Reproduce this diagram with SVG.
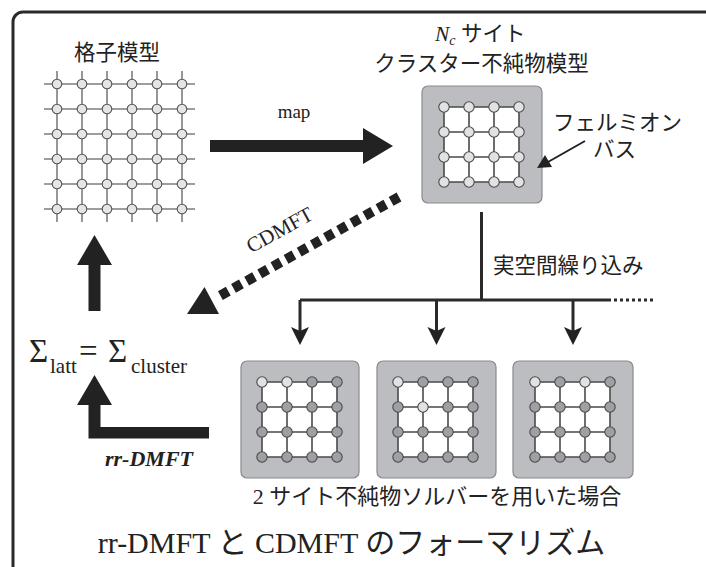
<svg xmlns="http://www.w3.org/2000/svg" width="706" height="567" viewBox="0 0 706 567">
<style>
.frame{fill:#fff;stroke:#2a2a2a;stroke-width:3}
.lat{stroke:#7e7e80;stroke-width:1.6;fill:none}
.ln{fill:#e5e5e7;stroke:#555;stroke-width:1.1}
.box{fill:#bcbdc0;stroke:#8a8a8c;stroke-width:1.2}
.in{fill:#fff;stroke:none}
.gl{stroke:#4a4a4a;stroke-width:1.6;fill:none}
.cl{fill:#e2e2e4;stroke:#4a4a4a;stroke-width:1.1}
.cd{fill:#9fa0a3;stroke:#4a4a4a;stroke-width:1.1}
.jp{font-family:"Liberation Serif","Noto Sans CJK JP",serif;font-size:21.5px;fill:#222}
.ser{font-family:"Liberation Serif",serif;fill:#222}
.blk{fill:#222;stroke:none}
.thin{stroke:#2a2a2a;stroke-width:3;fill:none}
</style>
<defs>
<g id="grid4">
<rect class="in" x="0" y="0" width="75" height="75"/>
<path class="gl" d="M0,0H75M0,25H75M0,50H75M0,75H75M0,0V75M25,0V75M50,0V75M75,0V75"/>
</g>
</defs>
<rect class="frame" x="13" y="12" width="720" height="600" rx="10"/>

<g id="lattice">
<text class="jp" x="117" y="60" text-anchor="middle">格子模型</text>
<path class="lat" d="M44,84H195M44,109H195M44,134H195M44,159H195M44,184H195M44,209H195M57,71V222M82,71V222M107,71V222M132,71V222M157,71V222M182,71V222"/>
<g class="ln">
<circle cx="57" cy="84" r="4.8"/><circle cx="82" cy="84" r="4.8"/><circle cx="107" cy="84" r="4.8"/><circle cx="132" cy="84" r="4.8"/><circle cx="157" cy="84" r="4.8"/><circle cx="182" cy="84" r="4.8"/>
<circle cx="57" cy="109" r="4.8"/><circle cx="82" cy="109" r="4.8"/><circle cx="107" cy="109" r="4.8"/><circle cx="132" cy="109" r="4.8"/><circle cx="157" cy="109" r="4.8"/><circle cx="182" cy="109" r="4.8"/>
<circle cx="57" cy="134" r="4.8"/><circle cx="82" cy="134" r="4.8"/><circle cx="107" cy="134" r="4.8"/><circle cx="132" cy="134" r="4.8"/><circle cx="157" cy="134" r="4.8"/><circle cx="182" cy="134" r="4.8"/>
<circle cx="57" cy="159" r="4.8"/><circle cx="82" cy="159" r="4.8"/><circle cx="107" cy="159" r="4.8"/><circle cx="132" cy="159" r="4.8"/><circle cx="157" cy="159" r="4.8"/><circle cx="182" cy="159" r="4.8"/>
<circle cx="57" cy="184" r="4.8"/><circle cx="82" cy="184" r="4.8"/><circle cx="107" cy="184" r="4.8"/><circle cx="132" cy="184" r="4.8"/><circle cx="157" cy="184" r="4.8"/><circle cx="182" cy="184" r="4.8"/>
<circle cx="57" cy="209" r="4.8"/><circle cx="82" cy="209" r="4.8"/><circle cx="107" cy="209" r="4.8"/><circle cx="132" cy="209" r="4.8"/><circle cx="157" cy="209" r="4.8"/><circle cx="182" cy="209" r="4.8"/>
</g>
</g>

<g id="cluster-impurity">
<text class="jp" x="435" y="41"><tspan font-style="italic">N</tspan><tspan font-style="italic" font-size="14" dy="4">c</tspan><tspan dy="-4"> サイト</tspan></text>
<text class="jp" x="481.5" y="71" text-anchor="middle">クラスター不純物模型</text>
<rect class="box" x="422" y="86" width="120" height="117" rx="6"/>
<use href="#grid4" x="444" y="107"/>
<g class="cl">
<circle cx="444" cy="107" r="5.2"/><circle cx="469" cy="107" r="5.2"/><circle cx="494" cy="107" r="5.2"/><circle cx="519" cy="107" r="5.2"/>
<circle cx="444" cy="132" r="5.2"/><circle cx="469" cy="132" r="5.2"/><circle cx="494" cy="132" r="5.2"/><circle cx="519" cy="132" r="5.2"/>
<circle cx="444" cy="157" r="5.2"/><circle cx="469" cy="157" r="5.2"/><circle cx="494" cy="157" r="5.2"/><circle cx="519" cy="157" r="5.2"/>
<circle cx="444" cy="182" r="5.2"/><circle cx="469" cy="182" r="5.2"/><circle cx="494" cy="182" r="5.2"/><circle cx="519" cy="182" r="5.2"/>
</g>
<text class="jp" x="553" y="130">フェルミオン</text>
<text class="jp" x="593" y="157">バス</text>
</g>

<g id="solver1">
<rect class="box" x="241" y="361" width="118" height="117" rx="6"/>
<use href="#grid4" x="262" y="382"/>
<circle class="cl" cx="262" cy="382" r="5.2"/><circle class="cl" cx="287" cy="382" r="5.2"/><circle class="cd" cx="312" cy="382" r="5.2"/><circle class="cd" cx="337" cy="382" r="5.2"/>
<g class="cd">
<circle cx="262" cy="407" r="5.2"/><circle cx="287" cy="407" r="5.2"/><circle cx="312" cy="407" r="5.2"/><circle cx="337" cy="407" r="5.2"/>
<circle cx="262" cy="432" r="5.2"/><circle cx="287" cy="432" r="5.2"/><circle cx="312" cy="432" r="5.2"/><circle cx="337" cy="432" r="5.2"/>
<circle cx="262" cy="457" r="5.2"/><circle cx="287" cy="457" r="5.2"/><circle cx="312" cy="457" r="5.2"/><circle cx="337" cy="457" r="5.2"/>
</g>
</g>

<g id="solver2">
<rect class="box" x="377" y="361" width="119" height="117" rx="6"/>
<use href="#grid4" x="398" y="382"/>
<circle class="cl" cx="398" cy="382" r="5.2"/><circle class="cd" cx="423" cy="382" r="5.2"/><circle class="cd" cx="448" cy="382" r="5.2"/><circle class="cd" cx="473" cy="382" r="5.2"/>
<circle class="cd" cx="398" cy="407" r="5.2"/><circle class="cl" cx="423" cy="407" r="5.2"/><circle class="cd" cx="448" cy="407" r="5.2"/><circle class="cd" cx="473" cy="407" r="5.2"/>
<g class="cd">
<circle cx="398" cy="432" r="5.2"/><circle cx="423" cy="432" r="5.2"/><circle cx="448" cy="432" r="5.2"/><circle cx="473" cy="432" r="5.2"/>
<circle cx="398" cy="457" r="5.2"/><circle cx="423" cy="457" r="5.2"/><circle cx="448" cy="457" r="5.2"/><circle cx="473" cy="457" r="5.2"/>
</g>
</g>

<g id="solver3">
<rect class="box" x="513" y="361" width="120" height="117" rx="6"/>
<use href="#grid4" x="535" y="382"/>
<circle class="cl" cx="535" cy="382" r="5.2"/><circle class="cd" cx="560" cy="382" r="5.2"/><circle class="cl" cx="585" cy="382" r="5.2"/><circle class="cd" cx="610" cy="382" r="5.2"/>
<g class="cd">
<circle cx="535" cy="407" r="5.2"/><circle cx="560" cy="407" r="5.2"/><circle cx="585" cy="407" r="5.2"/><circle cx="610" cy="407" r="5.2"/>
<circle cx="535" cy="432" r="5.2"/><circle cx="560" cy="432" r="5.2"/><circle cx="585" cy="432" r="5.2"/><circle cx="610" cy="432" r="5.2"/>
<circle cx="535" cy="457" r="5.2"/><circle cx="560" cy="457" r="5.2"/><circle cx="585" cy="457" r="5.2"/><circle cx="610" cy="457" r="5.2"/>
</g>
</g>

<g id="self-energy" class="ser">
<text x="29" y="362" font-size="33">Σ</text>
<text x="50" y="373" font-size="21">latt</text>
<text x="79" y="362" font-size="33">=</text>
<text x="108" y="362" font-size="33">Σ</text>
<text x="131" y="373" font-size="21">cluster</text>
</g>

<g id="connectors">
<path class="blk" d="M210,140H363V128L393,146L363,164V152H210Z"/>
<text class="ser" x="294" y="118" font-size="19" text-anchor="middle">map</text>
<path d="M399,197L216,298" stroke="#222" stroke-width="10" stroke-dasharray="9 6" fill="none"/>
<path class="blk" d="M187,314L219,314L204.5,287Z"/>
<text class="ser" font-size="21" text-anchor="middle" transform="translate(283,236) rotate(-29)">CDMFT</text>
<path class="blk" d="M88.5,311V265H77L94.5,235L112,265H100.5V311Z"/>
<path class="blk" d="M209,427H100.5V405H112L94.5,375L77,405H88.5V438.5H209Z"/>
<text class="ser" x="105" y="466" font-size="22" font-weight="bold" font-style="italic">rr-DMFT</text>
<path d="M585,141L548,162" stroke="#222" stroke-width="2" fill="none"/>
<path class="blk" d="M537,168L545,155L552,167Z"/>
<path class="thin" d="M481.5,212V300M300,300H611M300,300V332M436.5,300V332M573,300V332"/>
<path d="M614,300H656" stroke="#2a2a2a" stroke-width="3" stroke-dasharray="3 3"/>
<path class="blk" d="M300,345L291,327L300,331L309,327ZM436.5,345L427.5,327L436.5,331L445.5,327ZM573,345L564,327L573,331L582,327Z"/>
<text class="jp" x="493" y="273">実空間繰り込み</text>
</g>

<text class="jp" x="437" y="504" text-anchor="middle" style="font-size:22px">2 サイト不純物ソルバーを用いた場合</text>
<text class="jp" x="351.5" y="553" text-anchor="middle" style="font-size:30px">rr-DMFT と CDMFT のフォーマリズム</text>
</svg>
